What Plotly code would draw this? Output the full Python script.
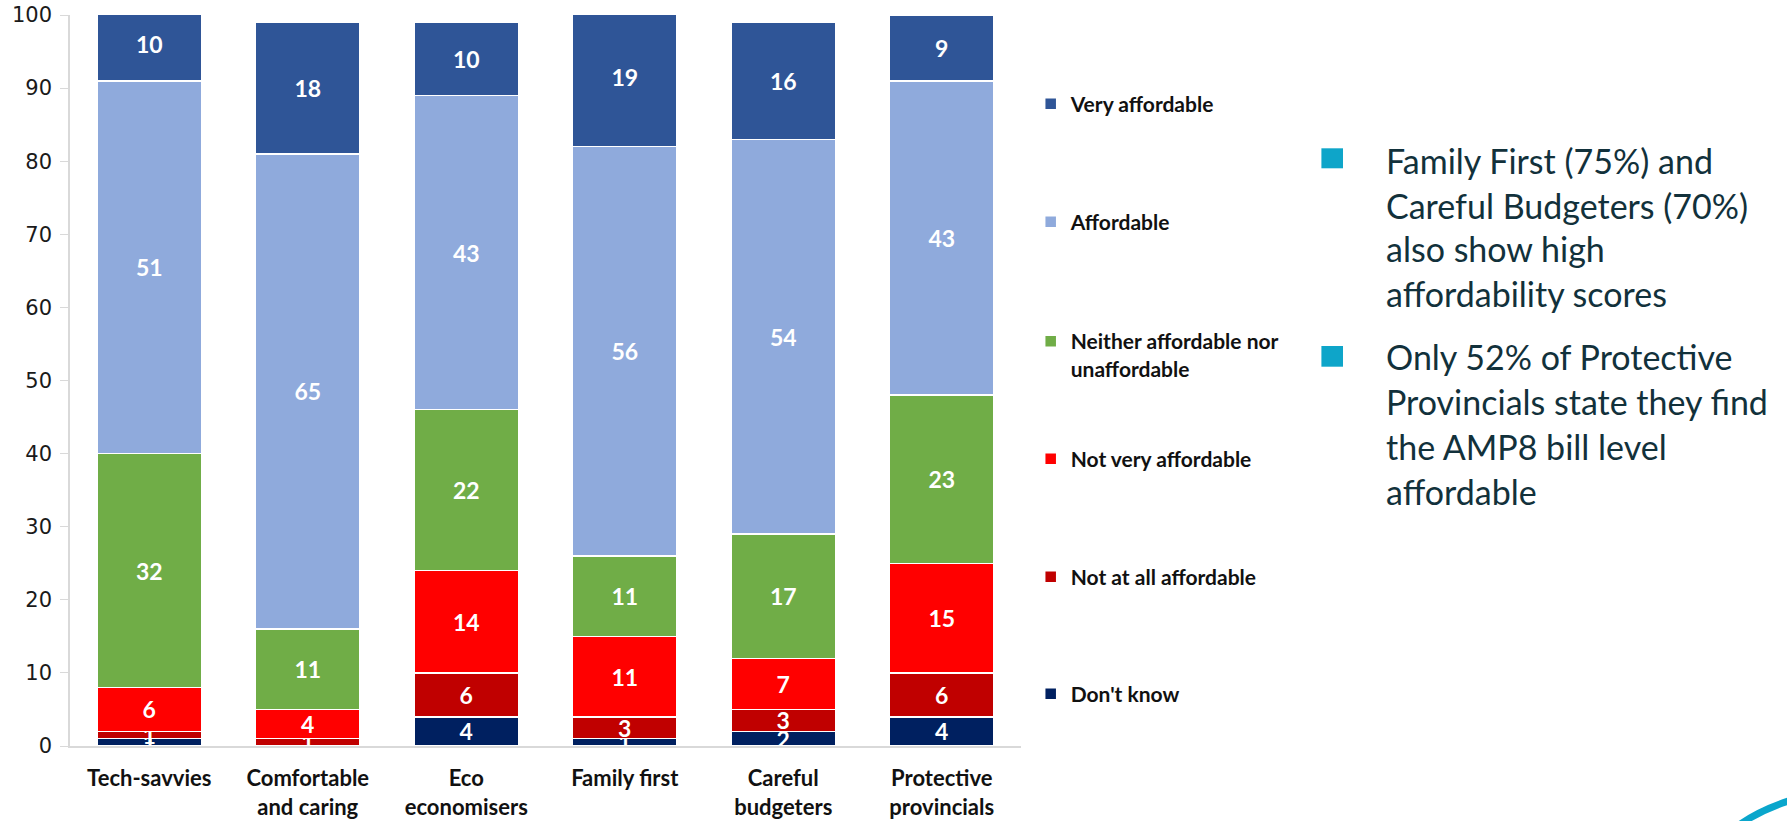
import plotly.graph_objects as go

categories = ["Tech-savvies", "Comfortable<br>and caring", "Eco<br>economisers",
              "Family first", "Careful<br>budgeters", "Protective<br>provincials"]

dont_know = [1, 0, 4, 1, 2, 4]
not_at_all = [1, 1, 6, 3, 3, 6]
not_very = [6, 4, 14, 11, 7, 15]
neither = [32, 11, 22, 11, 17, 23]
affordable = [51, 65, 43, 56, 54, 43]
very_affordable = [10, 18, 10, 19, 16, 9]

series_names = ["Don't know", "Not at all affordable", "Not very affordable",
                "Neither affordable nor<br>unaffordable", "Affordable", "Very affordable"]
series_values = [dont_know, not_at_all, not_very, neither, affordable, very_affordable]
series_colors = ["#002060", "#C00000", "#FF0000", "#70AD47", "#8FAADC", "#2F5597"]

bullet_1 = ["Family First (75%) and", "Careful Budgeters (70%)", "also show high",
            "affordability scores"]
bullet_2 = ["Only 52% of Protective", "Provincials state they find", "the AMP8 bill level",
            "affordable"]

W, H = 1787, 821
L, R, T, B = 70.3, 1021.3, 15, 746


def px_x(x):
    return (x - L) / (R - L)


def px_y(y):
    return (B - y) / (B - T)


# legend item centres (pixels), bottom series first
legend_centres = [694, 577, 459, 355, 222, 104]

fig = go.Figure()
legend_ids = ["legend6", "legend5", "legend4", "legend3", "legend2", "legend"]
for i, (name, vals, col) in enumerate(zip(series_names, series_values, series_colors)):
    fig.add_trace(go.Bar(
        x=categories, y=vals, name=name,
        marker=dict(color=col, line=dict(color="white", width=1.5)),
        text=[str(v) for v in vals],
        textposition="inside", insidetextanchor="middle",
        constraintext="none", textangle=0,
        textfont=dict(family="Lato", size=23, color="white", weight="bold"),
        legend=legend_ids[i],
    ))

layout_legends = {}
for i, lid in enumerate(legend_ids):
    layout_legends[lid] = dict(
        x=px_x(1031), xanchor="left",
        y=px_y(legend_centres[i]), yanchor="middle",
        bgcolor="rgba(0,0,0,0)", borderwidth=0,
        valign="top",
        font=dict(family="Lato", size=21, color="#111111", weight="bold"),
    )

annotations = []
line_mids_1 = [160.8, 205.2, 248.5, 293.5]
line_mids_2 = [356.8, 401.8, 446.8, 491.8]
for txt, ym in list(zip(bullet_1, line_mids_1)) + list(zip(bullet_2, line_mids_2)):
    annotations.append(dict(
        text=txt, x=px_x(1384), y=px_y(ym), xref="paper", yref="paper",
        xanchor="left", yanchor="middle", showarrow=False,
        font=dict(family="Lato", size=34, color="#12313b"),
    ))

shapes = []
for (y0, y1) in [(148.3, 168.3), (346, 366.7)]:
    shapes.append(dict(type="rect", xref="paper", yref="paper",
                       x0=px_x(1321.7), x1=px_x(1343.3), y0=px_y(y1), y1=px_y(y0),
                       fillcolor="#0EA5C9", line=dict(width=0)))
# logo fragment in bottom-right corner
shapes.append(dict(
    type="path", xref="paper", yref="paper",
    path=f"M {px_x(1738)},{px_y(826)} Q {px_x(1760)},{px_y(810)} {px_x(1792)},{px_y(800)}",
    line=dict(color="#0AA6CC", width=7), fillcolor="rgba(0,0,0,0)",
))

fig.update_layout(
    barmode="stack",
    bargap=0.34,
    width=W, height=H,
    margin=dict(l=L, r=W - R, t=T, b=H - B, autoexpand=False),
    plot_bgcolor="white", paper_bgcolor="white",
    showlegend=True,
    annotations=annotations,
    shapes=shapes,
    **layout_legends,
)
fig.update_yaxes(
    range=[0, 100], dtick=10, showgrid=False, zeroline=False,
    showline=True, linecolor="#d9d9d9", linewidth=1.5,
    ticks="outside", ticklen=8, tickcolor="#d9d9d9",
    ticklabeloverflow="allow", ticklabelstandoff=4,
    tickfont=dict(family="DejaVu Sans", size=21, color="#1a1a1a"),
)
fig.update_xaxes(
    showgrid=False, showline=True, linecolor="#d9d9d9", linewidth=1.5,
    ticks="", ticklabelstandoff=12,
    tickfont=dict(family="Lato", size=22, color="#111111", weight="bold"),
)

fig.write_html(
    "out.html",
    config={"displayModeBar": False},
    post_script="document.body.style.margin='0';document.body.style.padding='0';"
                "document.body.style.overflow='hidden';",
)
